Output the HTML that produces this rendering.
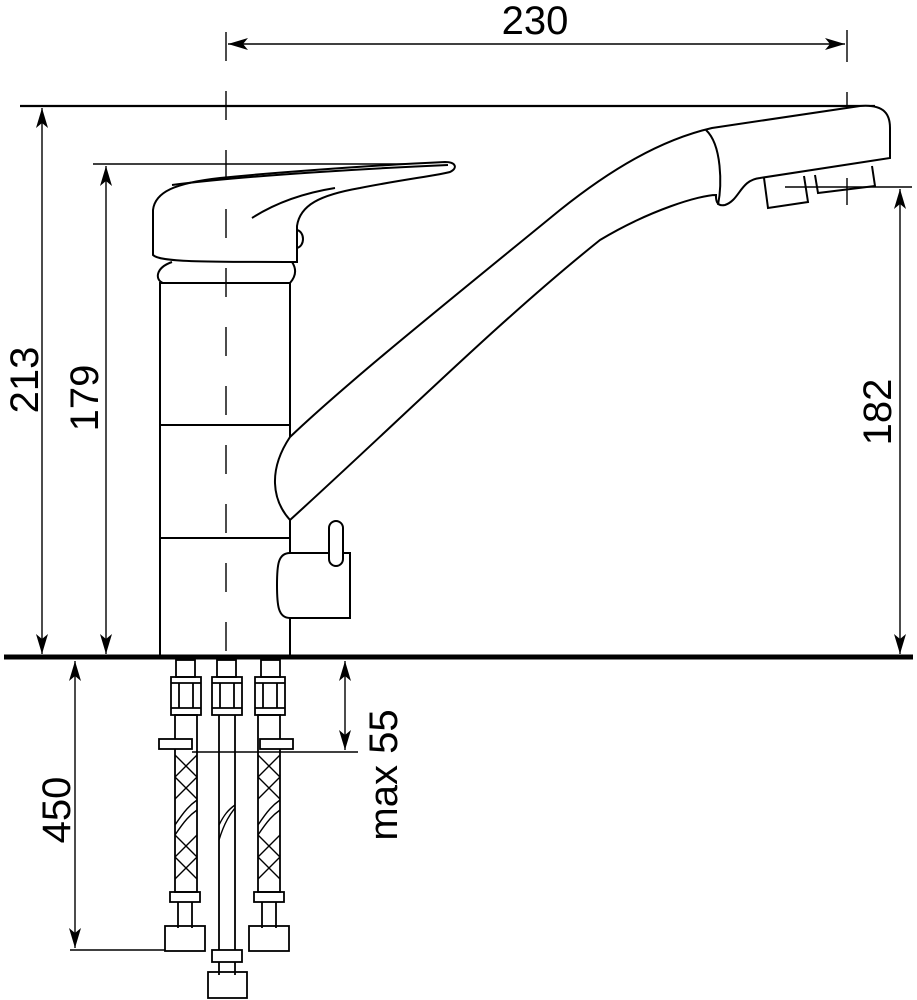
<!DOCTYPE html>
<html><head><meta charset="utf-8"><style>html,body{margin:0;padding:0;background:#fff}svg{display:block}</style></head><body>
<svg width="917" height="1000" viewBox="0 0 917 1000" xmlns="http://www.w3.org/2000/svg">
<defs>
<marker id="a" viewBox="0 0 20 12" refX="20" refY="6" markerWidth="20" markerHeight="12" markerUnits="userSpaceOnUse" orient="auto-start-reverse"><path d="M20,6 L0,0 L5,6 L0,12 Z" fill="#000"/></marker>
</defs>
<g fill="none" stroke="#000" stroke-width="1.4">
<line x1="228" y1="44" x2="845" y2="44" marker-start="url(#a)" marker-end="url(#a)"/>
<line x1="847" y1="30" x2="847" y2="62"/>
<line x1="847" y1="92" x2="847" y2="135"/>
<line x1="847" y1="178" x2="847" y2="205"/>
<line x1="42" y1="108" x2="42" y2="654" marker-start="url(#a)" marker-end="url(#a)"/>
<line x1="106" y1="166" x2="106" y2="654" marker-start="url(#a)" marker-end="url(#a)"/>
<line x1="93" y1="164" x2="440" y2="164"/>
<line x1="900" y1="189" x2="900" y2="654" marker-start="url(#a)" marker-end="url(#a)"/>
<line x1="785" y1="187" x2="912" y2="187"/>
<line x1="75" y1="661" x2="75" y2="948" marker-start="url(#a)" marker-end="url(#a)"/>
<line x1="70" y1="950" x2="165" y2="950"/>
<line x1="345" y1="661" x2="345" y2="750" marker-start="url(#a)" marker-end="url(#a)"/>
<line x1="192" y1="752" x2="358" y2="752"/>
</g>
<line x1="20" y1="106" x2="875" y2="106" stroke="#000" stroke-width="2.2"/>
<g fill="none" stroke="#000" stroke-width="2">
<rect x="160" y="283" width="130" height="374" fill="#fff"/>
<line x1="160" y1="425" x2="290" y2="425"/>
<line x1="160" y1="538" x2="290" y2="538"/>
<path d="M172,262 C155,268 155,280 163,283 M290,283 C297,275 296,268 292,262"/>
<path d="M297,262 L297,226 C300,205 320,195 360,188 C400,180 440,175 450,172 C458,168 456,162 445,162 C400,164 300,170 220,178 C175,183 155,192 153,210 L153,255 C160,262 200,262 297,262 Z" fill="#fff"/>
<path d="M172,185 C250,175 380,168 448,165"/>
<path d="M252,218 C280,200 310,192 335,188"/>
<path d="M297,230 C305,232 305,246 297,248"/>
<path d="M290,437 C350,380 450,300 560,210 C610,170 660,140 712,128 L860,106 C885,104 890,115 890,128 L890,158 L760,178 C740,180 740,200 725,205 C715,207 716,197 716,195 C700,195 650,210 600,240 C500,320 400,420 290,520 C272,500 268,470 290,437 Z" fill="#fff"/>
<path d="M706,130 C722,145 722,185 718,205"/>
<path d="M764,178 L768,208 L808,202 L804,176"/>
<path d="M815,175 L818,193 L875,186 L872,166"/>
<path d="M290,553 L350,553 L350,618 L290,618 C278,618 277,605 277,585 C277,565 278,553 290,553 Z" fill="#fff"/>
<rect x="329" y="521" width="14" height="45" rx="7" fill="#fff"/>
</g>
<line x1="226" y1="32" x2="226" y2="657" stroke="#000" stroke-width="1.4" stroke-dasharray="29 30"/>
<line x1="4" y1="657" x2="913" y2="657" stroke="#000" stroke-width="5"/>
<g fill="none" stroke="#000" stroke-width="1.8">
<rect x="176" y="660" width="19" height="17"/><rect x="171" y="677" width="30" height="38"/><line x1="171" y1="683" x2="201" y2="683"/><line x1="171" y1="708" x2="201" y2="708"/><line x1="179" y1="683" x2="179" y2="708"/><line x1="193" y1="683" x2="193" y2="708"/>
<rect x="175" y="715" width="22" height="177"/><rect x="159" y="739" width="33" height="10" fill="#fff"/>
<rect x="170" y="892" width="30" height="10"/><line x1="178" y1="902" x2="178" y2="928"/><line x1="192" y1="902" x2="192" y2="928"/><rect x="165" y="926" width="40" height="25"/>
<path d="M175,755 L197,777 M197,755 L175,777 M175,777 L197,799 M197,777 L175,799 M175,835 L197,857 M197,835 L175,857 M175,857 L197,879 M197,857 L175,879 M175,825 C185,810 190,805 197,800 M175,835 C185,820 190,815 197,810" stroke-width="1.4"/>
<rect x="261" y="660" width="19" height="17"/><rect x="255" y="677" width="30" height="38"/><line x1="255" y1="683" x2="285" y2="683"/><line x1="255" y1="708" x2="285" y2="708"/><line x1="263" y1="683" x2="263" y2="708"/><line x1="277" y1="683" x2="277" y2="708"/>
<rect x="258" y="715" width="22" height="177"/><rect x="260" y="739" width="33" height="10" fill="#fff"/>
<rect x="254" y="892" width="30" height="10"/><line x1="262" y1="902" x2="262" y2="928"/><line x1="276" y1="902" x2="276" y2="928"/><rect x="249" y="926" width="40" height="25"/>
<path d="M258,755 L280,777 M280,755 L258,777 M258,777 L280,799 M280,777 L258,799 M258,835 L280,857 M280,835 L258,857 M258,857 L280,879 M280,857 L258,879 M258,825 C268,810 273,805 280,800 M258,835 C268,820 273,815 280,810" stroke-width="1.4"/>
<rect x="217" y="660" width="19" height="17"/><rect x="212" y="677" width="30" height="38"/><line x1="212" y1="683" x2="242" y2="683"/><line x1="212" y1="708" x2="242" y2="708"/><line x1="220" y1="683" x2="220" y2="708"/><line x1="234" y1="683" x2="234" y2="708"/>
<line x1="219" y1="715" x2="219" y2="950"/><line x1="235" y1="715" x2="235" y2="950"/>
<path d="M219,840 C225,820 232,812 235,808 M219,825 C224,815 228,810 235,805" stroke-width="1.4"/>
<rect x="212" y="950" width="30" height="12"/><line x1="219" y1="962" x2="219" y2="975"/><line x1="235" y1="962" x2="235" y2="975"/><rect x="208" y="972" width="39" height="26"/>
</g>
<g font-family="Liberation Sans, sans-serif" font-size="40" fill="#000">
<text x="535" y="34" text-anchor="middle">230</text>
<text transform="translate(38,380) rotate(-90)" text-anchor="middle">213</text>
<text transform="translate(98,398) rotate(-90)" text-anchor="middle">179</text>
<text transform="translate(891,412) rotate(-90)" text-anchor="middle">182</text>
<text transform="translate(70,810) rotate(-90)" text-anchor="middle">450</text>
<text transform="translate(397,775) rotate(-90)" text-anchor="middle">max 55</text>
</g>
</svg>
</body></html>
